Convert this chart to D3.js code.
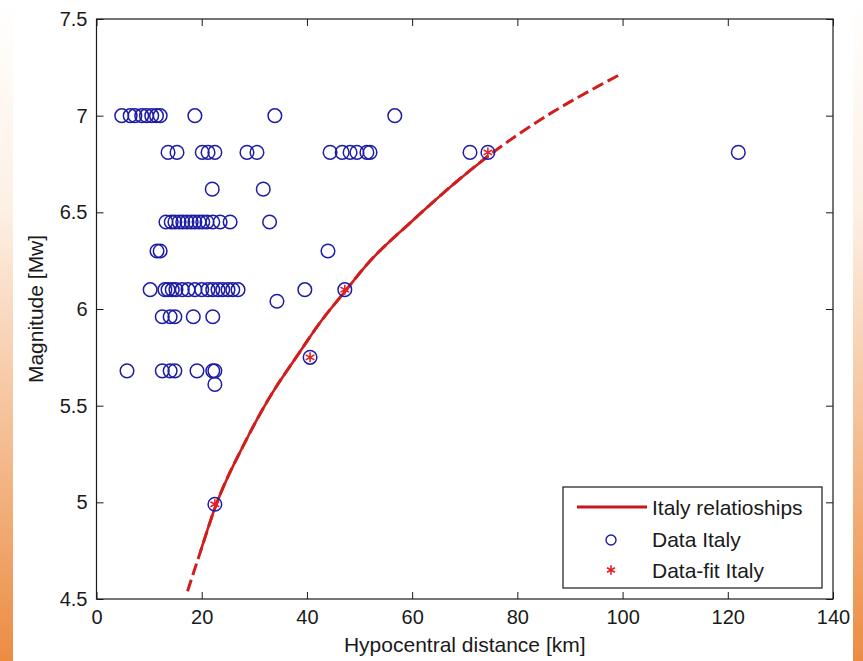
<!DOCTYPE html>
<html>
<head>
<meta charset="utf-8">
<script src="https://cdn.jsdelivr.net/npm/d3@7"></script>
<style>
  body { margin: 0; background: #fff; }
  svg { display: block; }
  text { font-family: "Liberation Sans", Arial, sans-serif; fill: #1a1a1a; }
</style>
</head>
<body>
<div id="chart"></div>
<script>
// tick labels
var xTicks = [0, 20, 40, 60, 80, 100, 120, 140];
var yTicks = [4.5, 5, 5.5, 6, 6.5, 7, 7.5];

// observed records, [hypocentral distance km, Mw]
var dataItaly = [
	[4.8, 7.0], [6.4, 7.0], [7.3, 7.0], [8.6, 7.0], [9.5, 7.0], [10.5, 7.0], [11.4, 7.0], [12.1, 7.0], [18.7, 7.0], [33.9, 7.0], [56.7, 7.0],
	[13.6, 6.81], [15.3, 6.81], [20.1, 6.81], [21.2, 6.81], [22.5, 6.81], [28.6, 6.81], [30.5, 6.81], [44.4, 6.81], [46.7, 6.81], [48.2, 6.81],
	[49.5, 6.81], [51.4, 6.81], [52.0, 6.81], [71.0, 6.81], [74.4, 6.81], [122.0, 6.81],
	[22.0, 6.62], [31.7, 6.62],
	[13.2, 6.45], [14.2, 6.45], [14.9, 6.45], [15.7, 6.45], [16.4, 6.45], [17.2, 6.45], [18.0, 6.45], [18.7, 6.45], [19.5, 6.45], [20.2, 6.45],
	[21.0, 6.45], [22.1, 6.45], [23.5, 6.45], [25.4, 6.45], [32.9, 6.45],
	[11.5, 6.3], [12.1, 6.3], [44.0, 6.3],
	[10.2, 6.1], [13.0, 6.1], [13.6, 6.1], [14.4, 6.1], [15.1, 6.1], [16.3, 6.1], [17.4, 6.1], [18.7, 6.1], [20.0, 6.1], [21.2, 6.1],
	[22.1, 6.1], [23.1, 6.1], [24.0, 6.1], [25.0, 6.1], [25.9, 6.1], [26.9, 6.1], [39.6, 6.1], [47.2, 6.1],
	[34.3, 6.04],
	[12.5, 5.96], [14.0, 5.96], [14.9, 5.96], [18.4, 5.96], [22.1, 5.96],
	[40.6, 5.75],
	[5.8, 5.68], [12.5, 5.68], [14.0, 5.68], [14.9, 5.68], [19.1, 5.68], [22.1, 5.68], [22.5, 5.68],
	[22.5, 5.61],
	[22.5, 4.99]
];

// points used for the fit
var dataFit = [[22.5, 4.99], [40.6, 5.75], [47.2, 6.10], [74.4, 6.81]];

// relationship curve
var relation = [
	[17.3, 4.54], [19.7, 4.74], [22.5, 4.97], [28.6, 5.33], [32.4, 5.52], [38.7, 5.78], [42.5, 5.93], [47.2, 6.09],
	[51.4, 6.23], [60.2, 6.46], [67.2, 6.63], [74.4, 6.79], [80.0, 6.90], [86.8, 7.02], [95.2, 7.15], [100.0, 7.22]
];

var W = 863, H = 661;
var margin = { "top": 19, "right": 30, "bottom": 62, "left": 96.5 };
var w = W - margin.left - margin.right,
	h = H - margin.top - margin.bottom;

var svg = d3.select("#chart").append("svg")
	.attr("width", W)
	.attr("height", H);

// orange side strips of the slide
var grad = svg.append("defs").append("linearGradient")
	.attr("id", "side")
	.attr("x1", 0).attr("y1", 0).attr("x2", 0).attr("y2", 1);
grad.append("stop").attr("offset", "0%").attr("stop-color", "#ffffff");
grad.append("stop").attr("offset", "32%").attr("stop-color", "#fdf0e4");
grad.append("stop").attr("offset", "100%").attr("stop-color", "#ec8c43");
svg.append("rect").attr("x", 0).attr("y", 0).attr("width", 13).attr("height", H).attr("fill", "url(#side)");
svg.append("rect").attr("x", 853).attr("y", 0).attr("width", 10).attr("height", H).attr("fill", "url(#side)");

var g = svg.append("g")
	.attr("transform", "translate(" + margin.left + "," + margin.top + ")");

var x = d3.scaleLinear().domain([0, 140]).range([0, w]);
var y = d3.scaleLinear().domain([4.5, 7.5]).range([h, 0]);

var fmt = function(d) { return String(d); };

function styleAxis(sel) {
	sel.select(".domain").remove();
	sel.selectAll(".tick line").attr("stroke", "#1a1a1a");
	sel.selectAll(".tick text").style("font-size", "20px").attr("fill", "#1a1a1a");
}

g.append("g").attr("transform", "translate(0," + h + ")")
	.call(d3.axisBottom(x).tickValues(xTicks).tickFormat(fmt).tickSize(-7).tickPadding(11))
	.call(styleAxis);
g.append("g")
	.call(d3.axisTop(x).tickValues(xTicks).tickFormat("").tickSize(-7))
	.call(styleAxis);
g.append("g")
	.call(d3.axisLeft(y).tickValues(yTicks).tickFormat(fmt).tickSize(-7).tickPadding(9))
	.call(styleAxis);
g.append("g").attr("transform", "translate(" + w + ",0)")
	.call(d3.axisRight(y).tickValues(yTicks).tickFormat("").tickSize(-7))
	.call(styleAxis);

g.append("rect")
	.attr("width", w).attr("height", h)
	.attr("fill", "none")
	.attr("stroke", "#1a1a1a")
	.attr("stroke-width", 1.2);

// curve: dashed over the whole range, solid over the fitted part
var line = d3.line()
	.x(function(d) { return x(d[0]); })
	.y(function(d) { return y(d[1]); })
	.curve(d3.curveMonotoneX);

g.append("path")
	.datum(relation)
	.attr("d", line)
	.attr("fill", "none")
	.attr("stroke", "#d01e1e")
	.attr("stroke-width", 3)
	.attr("stroke-dasharray", "12,5");
g.append("path")
	.datum(relation.filter(function(d) { return d[0] >= 19.7 && d[0] <= 74.4; }))
	.attr("d", line)
	.attr("fill", "none")
	.attr("stroke", "#d01e1e")
	.attr("stroke-width", 2.6);

g.append("g").selectAll("circle")
	.data(dataItaly)
	.enter().append("circle")
	.attr("cx", function(d) { return x(d[0]); })
	.attr("cy", function(d) { return y(d[1]); })
	.attr("r", 6.8)
	.attr("fill", "none")
	.attr("stroke", "#1c1ca6")
	.attr("stroke-width", 1.5);

var star = d3.symbol().type(d3.symbolAsterisk).size(70);
g.append("g").selectAll("path")
	.data(dataFit)
	.enter().append("path")
	.attr("d", star)
	.attr("transform", function(d) { return "translate(" + x(d[0]) + "," + y(d[1]) + ")"; })
	.attr("fill", "none")
	.attr("stroke", "#e0202a")
	.attr("stroke-width", 1.6);

// legend
var lg = svg.append("g").attr("transform", "translate(563,487)");
lg.append("rect")
	.attr("width", 259).attr("height", 101)
	.attr("fill", "#fff")
	.attr("stroke", "#1a1a1a")
	.attr("stroke-width", 1.2);
lg.append("line")
	.attr("x1", 14).attr("x2", 84).attr("y1", 20).attr("y2", 20)
	.attr("stroke", "#c8161e").attr("stroke-width", 3);
lg.append("circle")
	.attr("cx", 48).attr("cy", 53).attr("r", 5)
	.attr("fill", "none").attr("stroke", "#1c1ca6").attr("stroke-width", 1.4);
lg.append("path")
	.attr("d", d3.symbol().type(d3.symbolAsterisk).size(60))
	.attr("transform", "translate(48,83)")
	.attr("fill", "none").attr("stroke", "#e0202a").attr("stroke-width", 1.6);
var labels = ["Italy relatioships", "Data Italy", "Data-fit Italy"];
lg.selectAll("text.lbl")
	.data(labels)
	.enter().append("text")
	.attr("class", "lbl")
	.attr("x", 89)
	.attr("y", function(d, i) { return 21 + i * 31.5; })
	.attr("dy", "0.35em")
	.style("font-size", "21px")
	.text(function(d) { return d; });

// axis titles
svg.append("text")
	.attr("x", margin.left + w / 2)
	.attr("y", 652)
	.attr("text-anchor", "middle")
	.style("font-size", "21px")
	.text("Hypocentral distance [km]");
svg.append("text")
	.attr("transform", "translate(43," + (margin.top + h / 2) + ") rotate(-90)")
	.attr("text-anchor", "middle")
	.style("font-size", "21px")
	.text("Magnitude [Mw]");
</script>
</body>
</html>
